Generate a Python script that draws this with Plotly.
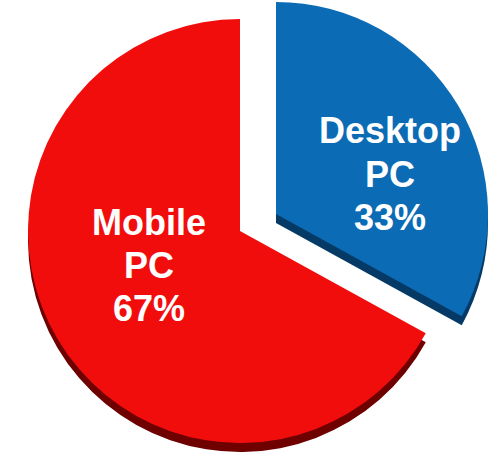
import plotly.graph_objects as go

labels = ["Desktop PC", "Mobile PC"]
values = [33, 67]

W, H = 493, 459
R = 212
DEPTH = 9

top_colors = ["#0B6BB5", "#F20D0D"]
side_colors = ["#053A66", "#6E0000"]
clear = "rgba(0,0,0,0)"

# pixel centres (from top-left) of each slice and of its label block
centres = [(276, 214), (240, 231)]
label_pos = [(390, 174), (149, 265)]
PITCH = 43


def dom(cx, cy, r):
    return dict(x=[max(0, (cx - r) / W), min(1, (cx + r) / W)],
                y=[max(0, (H - cy - r) / H), min(1, (H - cy + r) / H)])


def slice_trace(i, colors, cx, cy):
    cols = [clear] * len(values)
    cols[i] = colors[i]
    return go.Pie(
        labels=labels, values=values,
        sort=False, direction="clockwise", rotation=0,
        marker=dict(colors=cols, line=dict(width=0)),
        textinfo="none", hoverinfo="skip", showlegend=False,
        domain=dom(cx, cy, R),
    )


fig = go.Figure()
# red (Mobile) first, then pulled-out blue (Desktop); side layer under top layer
for i in [1, 0]:
    cx, cy = centres[i]
    fig.add_trace(slice_trace(i, side_colors, cx, cy + DEPTH))
    fig.add_trace(slice_trace(i, top_colors, cx, cy))

total = sum(values)
for i, lab in enumerate(labels):
    lines = lab.split(" ") + [f"{values[i] / total * 100:.0f}%"]
    lx, ly = label_pos[i]
    for k, line in enumerate(lines):
        yy = ly + (k - (len(lines) - 1) / 2) * PITCH
        fig.add_annotation(
            x=lx / W, y=1 - yy / H, xref="paper", yref="paper",
            text=line, showarrow=False, xanchor="center", yanchor="middle",
            font=dict(family="Liberation Sans, Arial", size=36, color="white", weight="bold"),
        )

fig.update_layout(
    width=W, height=H,
    margin=dict(l=0, r=0, t=0, b=0),
    paper_bgcolor="white", plot_bgcolor="white",
    showlegend=False,
)

fig.write_html("out.html", config={"displayModeBar": False},
               post_script="document.body.style.margin='0';")
